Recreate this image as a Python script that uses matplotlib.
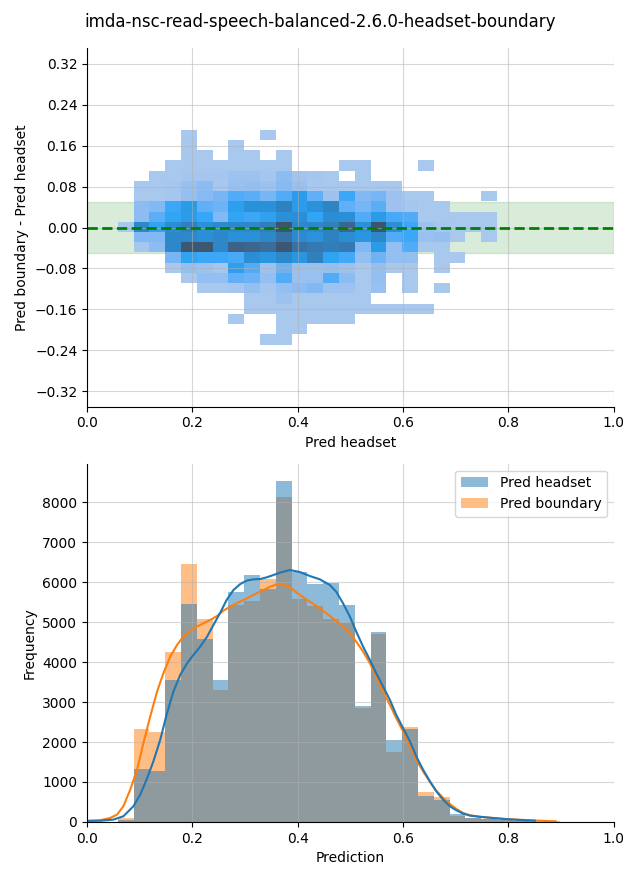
import numpy as np
import matplotlib
matplotlib.use('Agg')
import matplotlib.pyplot as plt
from matplotlib.colors import ListedColormap, to_rgba
from seaborn.external import husl

title = 'imda-nsc-read-speech-balanced-2.6.0-headset-boundary'

# histogram bins (shared by both panels)
bin_start = 0.0585
bin_width = 0.03
n_bins = 28

# 1D counts per bin
headset_counts = [55, 1330, 1265, 3560, 5460, 4590, 3560, 5760, 6190, 5845, 8545, 6265, 5950, 5990,
                  5440, 2910, 4765, 2060, 2330, 640, 555, 190, 110, 70, 40, 20, 10, 0]
boundary_counts = [100, 2335, 2260, 4265, 6465, 5080, 3310, 5440, 5540, 6090, 8140, 5590, 5400, 5070,
                   4970, 2845, 4715, 1745, 2380, 740, 630, 142, 100, 75, 50, 30, 20, 12]

# KDE curves
kde_x_headset = [0.0, 0.025, 0.05, 0.069, 0.088, 0.101, 0.113, 0.126, 0.139, 0.151, 0.164, 0.177, 0.19,
                 0.202, 0.215, 0.228, 0.24, 0.253, 0.265, 0.278, 0.291, 0.303, 0.316, 0.329, 0.341, 0.354,
                 0.366, 0.385, 0.404, 0.423, 0.442, 0.461, 0.473, 0.486, 0.499, 0.511, 0.524, 0.537, 0.549,
                 0.562, 0.575, 0.587, 0.6, 0.613, 0.625, 0.638, 0.651, 0.663, 0.676, 0.689, 0.701, 0.714,
                 0.727, 0.745, 0.765, 0.79, 0.82, 0.85]
kde_y_headset = [25, 30, 58, 142, 392, 683, 1058, 1517, 2058, 2683, 3267, 3683, 3975,
                 4183, 4392, 4642, 4933, 5242, 5558, 5808, 5958, 6042, 6075, 6083, 6125, 6183,
                 6242, 6308, 6258, 6158, 6075, 5933, 5767, 5475, 5142, 4767, 4392, 4058, 3725,
                 3392, 3058, 2683, 2350, 2017, 1642, 1308, 1017, 767, 558, 392, 292, 208,
                 158, 130, 105, 75, 50, 30]
kde_x_boundary = [0.0, 0.025, 0.044, 0.057, 0.069, 0.082, 0.095, 0.107, 0.12, 0.133, 0.145, 0.158, 0.171,
                  0.183, 0.196, 0.209, 0.221, 0.234, 0.247, 0.259, 0.272, 0.284, 0.297, 0.31, 0.322, 0.335,
                  0.348, 0.36, 0.37, 0.385, 0.404, 0.423, 0.442, 0.461, 0.48, 0.499, 0.511, 0.524, 0.537,
                  0.549, 0.562, 0.575, 0.587, 0.6, 0.613, 0.625, 0.638, 0.651, 0.663, 0.676, 0.689, 0.701,
                  0.714, 0.727, 0.745, 0.765, 0.79, 0.82, 0.86, 0.89]
kde_y_boundary = [25, 42, 100, 183, 392, 808, 1308, 1975, 2642, 3267, 3725, 4142, 4433,
                  4642, 4792, 4892, 4975, 5058, 5158, 5292, 5392, 5475, 5558, 5642, 5725, 5808,
                  5892, 5950, 5960, 5875, 5683, 5517, 5350, 5158, 4958, 4725, 4517, 4267, 3975,
                  3642, 3267, 2933, 2600, 2267, 1892, 1558, 1267, 1000, 783, 600, 450, 325,
                  225, 167, 130, 105, 78, 55, 30, 15]

# 2D histogram: rows from top (diff ~0.18) to bottom (diff ~-0.22), 24 columns of Pred headset
diff_top = 0.1913
diff_height = 0.02
grid_counts = [
    [0, 0, 0, 0, 30, 0, 0, 0, 0, 30, 0, 0, 0, 0, 0, 0, 0, 0, 0, 0, 0, 0, 0, 0],
    [0, 0, 0, 0, 30, 0, 0, 30, 0, 0, 0, 0, 0, 0, 0, 0, 0, 0, 0, 0, 0, 0, 0, 0],
    [0, 0, 0, 0, 30, 30, 0, 30, 30, 0, 30, 0, 0, 0, 0, 0, 0, 0, 0, 0, 0, 0, 0, 0],
    [0, 0, 0, 30, 30, 30, 30, 30, 30, 30, 30, 0, 0, 0, 30, 30, 0, 0, 0, 30, 0, 0, 0, 0],
    [0, 0, 30, 30, 60, 60, 60, 120, 120, 60, 240, 80, 60, 30, 0, 30, 0, 0, 0, 0, 0, 0, 0, 0],
    [0, 30, 30, 60, 150, 240, 30, 150, 180, 120, 270, 150, 30, 30, 30, 30, 30, 30, 0, 0, 0, 0, 0, 0],
    [0, 30, 30, 60, 180, 270, 360, 540, 500, 360, 540, 820, 480, 120, 620, 300, 360, 120, 30, 30, 0, 0, 0, 30],
    [0, 240, 300, 620, 840, 480, 400, 760, 1000, 1000, 1220, 820, 980, 1200, 480, 360, 500, 120, 60, 30, 30, 0, 0, 0],
    [0, 240, 500, 680, 820, 640, 300, 680, 620, 720, 1000, 1020, 680, 1050, 1020, 540, 840, 580, 540, 30, 30, 30, 30, 30],
    [30, 1140, 700, 1060, 1280, 1000, 1100, 1150, 1140, 1300, 2000, 1150, 1140, 1260, 1700, 1000, 2000, 1020, 620, 120, 60, 30, 30, 30],
    [0, 300, 300, 1140, 1140, 1020, 1140, 1000, 1000, 1140, 1480, 1080, 980, 1220, 1060, 900, 1140, 540, 620, 150, 180, 30, 0, 30],
    [0, 60, 240, 1140, 1950, 1950, 1140, 1750, 1700, 1580, 1950, 1500, 1380, 1300, 1380, 300, 840, 180, 540, 30, 30, 0, 0, 0],
    [0, 0, 0, 360, 700, 620, 620, 580, 1050, 920, 1140, 920, 1250, 700, 600, 180, 400, 180, 180, 0, 30, 30, 0, 0],
    [0, 0, 0, 30, 180, 120, 60, 760, 540, 120, 420, 150, 150, 180, 120, 30, 180, 30, 30, 0, 30, 0, 0, 0],
    [0, 0, 0, 0, 30, 180, 180, 480, 420, 180, 540, 150, 150, 540, 240, 30, 180, 0, 30, 0, 0, 0, 0, 0],
    [0, 0, 0, 0, 0, 30, 30, 60, 180, 60, 180, 240, 300, 120, 120, 30, 150, 0, 30, 0, 30, 0, 0, 0],
    [0, 0, 0, 0, 0, 0, 0, 0, 30, 30, 120, 30, 30, 30, 30, 30, 0, 0, 0, 0, 0, 0, 0, 0],
    [0, 0, 0, 0, 0, 0, 0, 0, 30, 30, 30, 30, 30, 30, 30, 30, 30, 30, 30, 30, 0, 0, 0, 0],
    [0, 0, 0, 0, 0, 0, 0, 30, 0, 0, 30, 30, 30, 30, 30, 0, 0, 0, 0, 0, 0, 0, 0, 0],
    [0, 0, 0, 0, 0, 0, 0, 0, 0, 0, 30, 30, 0, 0, 0, 0, 0, 0, 0, 0, 0, 0, 0, 0],
    [0, 0, 0, 0, 0, 0, 0, 0, 0, 30, 30, 0, 0, 0, 0, 0, 0, 0, 0, 0, 0, 0, 0, 0],
]


def cmap_from_color(color):
    # same ramp seaborn uses for bivariate histograms
    r, g, b, _ = to_rgba(color)
    h, s, _ = husl.rgb_to_husl(r, g, b)
    xx = np.linspace(-1, 1, int(1.15 * 256))[:256]
    ramp = np.zeros((256, 3))
    ramp[:, 0] = h
    ramp[:, 1] = s * np.cos(xx)
    ramp[:, 2] = np.linspace(35, 80, 256)
    colors = np.clip([husl.husl_to_rgb(*hsl) for hsl in ramp], 0, 1)
    return ListedColormap(colors[::-1])


fig, (ax1, ax2) = plt.subplots(2, 1, figsize=(6.4, 8.8), dpi=100)
fig.subplots_adjust(left=0.136, right=0.959, top=0.945, bottom=0.066, hspace=0.159)
fig.suptitle(title, fontsize=12, y=0.985)

# top: boundary - headset vs headset
counts2d = np.array(grid_counts, dtype=float)[::-1]
n_rows, n_cols = counts2d.shape
x_edges = bin_start + bin_width * np.arange(n_cols + 1)
y_edges = diff_top - diff_height * n_rows + diff_height * np.arange(n_rows + 1)
ax1.axhspan(-0.05, 0.05, color='green', alpha=0.15)
ax1.pcolormesh(x_edges, y_edges, np.ma.masked_equal(counts2d, 0),
               cmap=cmap_from_color('C0'), vmin=0)
ax1.axhline(0, color='green', linestyle='--', linewidth=2)
ax1.set_xlim(0, 1)
ax1.set_ylim(-0.35, 0.35)
ax1.set_yticks(np.arange(-0.32, 0.33, 0.08))
ax1.set_xlabel('Pred headset')
ax1.set_ylabel('Pred boundary - Pred headset')
ax1.grid(True, alpha=0.5)

# bottom: distributions (boundary drawn first so headset sits on top)
edges = bin_start + bin_width * np.arange(n_bins)
b_bound = ax2.bar(edges, boundary_counts, width=bin_width, align='edge', color='C1', alpha=0.5,
                  linewidth=0, label='Pred boundary')
b_head = ax2.bar(edges, headset_counts, width=bin_width, align='edge', color='C0', alpha=0.5,
                 linewidth=0, label='Pred headset')
ax2.plot(kde_x_boundary, kde_y_boundary, color='C1', linewidth=1.5)
ax2.plot(kde_x_headset, kde_y_headset, color='C0', linewidth=1.5)
ax2.set_xlim(0, 1)
ax2.set_ylim(0, None)
ax2.set_xlabel('Prediction')
ax2.set_ylabel('Frequency')
ax2.grid(True, alpha=0.5)
ax2.legend(handles=[b_head, b_bound], loc='upper right')

for ax in (ax1, ax2):
    ax.spines['top'].set_visible(False)
    ax.spines['right'].set_visible(False)

fig.savefig('out.png')
